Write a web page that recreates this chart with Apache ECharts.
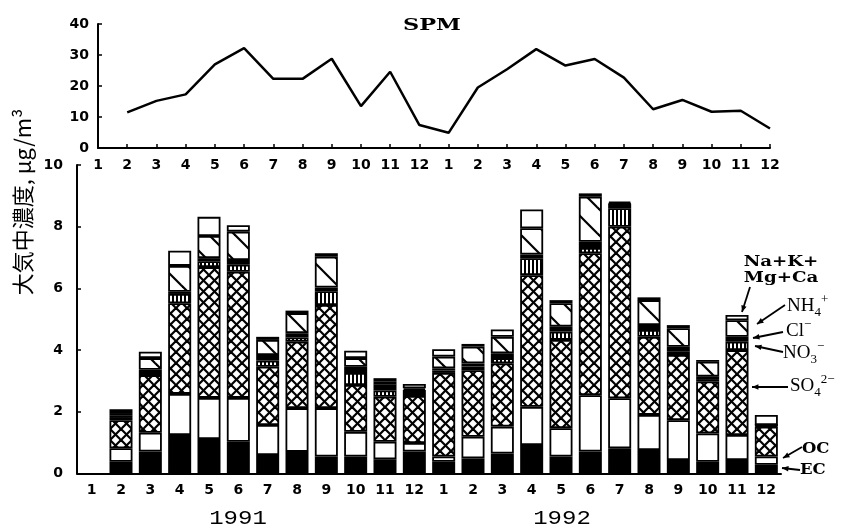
<!DOCTYPE html>
<html>
<head>
<meta charset="utf-8">
<script src="https://cdn.jsdelivr.net/npm/echarts@6/dist/echarts.min.js"></script>
<style>
  html, body { margin: 0; background: #fff; }
  #chart { width: 855px; height: 528px; }
</style>
</head>
<body>
<div id="chart"></div>
<script>
// 月 (1991年1月 〜 1992年12月)
const months = ['1','2','3','4','5','6','7','8','9','10','11','12','1','2','3','4','5','6','7','8','9','10','11','12'];

// SPM, µg/m3
const spm = ['-', 11.5, 15.2, 17.3, 27.0, 32.2, 22.3, 22.3, 28.8, 13.5, 24.6, 7.4,
             4.9, 19.5, 25.4, 31.9, 26.6, 28.7, 22.7, 12.5, 15.5, 11.7, 12.0, 6.3];

// 成分 (下から積み上げ)
const ec  = ['-', .38, .71, 1.25, 1.12, 1.03, .60, .70, .55, .55, .46, .71,
             .38, .49, .65, .92, .55, .71, .82, .76, .44, .38, .44, .28];
const oc  = ['-', .44, .61, 1.33, 1.33, 1.42, .97, 1.42, 1.57, .80, .57, .28,
             .17, .70, .87, 1.24, .92, 1.83, 1.62, 1.14, 1.29, .92, .81, .27];
const so4 = ['-', .91, 1.87, 2.94, 4.24, 4.09, 1.89, 2.15, 3.34, 1.52, 1.46, 1.52,
             2.71, 2.16, 2.05, 4.27, 2.86, 4.60, 5.56, 2.53, 2.11, 1.68, 2.75, .97];
const no3 = ['-', .10, .10, .30, .19, .23, .20, .14, .45, .39, .20, .10,
             .08, .12, .17, .55, .27, .17, .60, .22, .12, .08, .27, .03];
const cl  = ['-', .06, .07, .07, .10, .15, .18, .14, .12, .20, .20, .10,
             .07, .10, .16, .12, .16, .20, .14, .16, .15, .08, .16, .02];
const nh4 = ['-', .07, .38, .84, .72, .92, .49, .65, 1.00, .28, .10, .05,
             .38, .54, .53, .85, .76, 1.46, .02, .81, .60, .48, .54, 0];
const na  = ['-', .12, .21, .49, .62, .21, .10, .08, .11, .24, .10, .14,
             .24, .09, .24, .61, .10, .11, .05, .09, .10, .06, .17, .33];

// ハッチング用パターン
function makePattern(w, h, draw) {
  const c = document.createElement('canvas');
  c.width = w; c.height = h;
  const ctx = c.getContext('2d');
  ctx.fillStyle = '#fff';
  ctx.fillRect(0, 0, w, h);
  ctx.strokeStyle = '#000';
  draw(ctx, w, h);
  return { image: c, repeat: 'repeat' };
}
const crossHatch = makePattern(11, 11, (ctx, w, h) => {
  ctx.lineWidth = 2.2;
  for (let k = -1; k <= 1; k++) {
    ctx.beginPath(); ctx.moveTo(-2, -2 + k * w); ctx.lineTo(w + 2, h + 2 + k * w); ctx.stroke();
    ctx.beginPath(); ctx.moveTo(-2, h + 2 + k * w); ctx.lineTo(w + 2, -2 + k * w); ctx.stroke();
  }
});
const diagHatch = makePattern(26, 26, (ctx, w, h) => {
  ctx.lineWidth = 2.2;
  for (let k = -1; k <= 1; k++) {
    ctx.beginPath(); ctx.moveTo(-2, -2 + k * w); ctx.lineTo(w + 2, h + 2 + k * w); ctx.stroke();
  }
});
const vertHatch = makePattern(4, 4, (ctx, w, h) => {
  ctx.fillStyle = '#000';
  ctx.fillRect(0, 0, 2, h);
});

const labelFont = { fontFamily: 'DejaVu Sans', fontWeight: 'bold', fontSize: 14, color: '#000' };

function barSeries(name, data, fill) {
  return {
    name, type: 'bar', stack: 'total', xAxisIndex: 1, yAxisIndex: 1,
    data, barWidth: 23, animation: false,
    itemStyle: { color: fill, borderColor: '#000', borderWidth: 1.8 }
  };
}

function arrow(x1, y1, x2, y2) {
  const a = Math.atan2(y2 - y1, x2 - x1), L = 7, w = 0.4;
  return {
    type: 'group', silent: true,
    children: [
      { type: 'line', shape: { x1, y1, x2, y2 }, style: { stroke: '#000', lineWidth: 1.8 } },
      { type: 'polygon', shape: { points: [[x2, y2],
          [x2 - L * Math.cos(a - w), y2 - L * Math.sin(a - w)],
          [x2 - L * Math.cos(a + w), y2 - L * Math.sin(a + w)]] },
        style: { fill: '#000' } }
    ]
  };
}

function label(x, y, text, extra) {
  return Object.assign({
    type: 'text', x, y, silent: true,
    style: Object.assign({ text, fill: '#000', fontFamily: 'Liberation Serif', fontSize: 18,
      textAlign: 'left', textVerticalAlign: 'middle' }, extra && extra.style)
  }, extra && extra.el);
}

const subSup = {
  b: { fontFamily: 'Liberation Serif', fontSize: 19, lineHeight: 26 },
  s: { fontFamily: 'Liberation Serif', fontSize: 13, verticalAlign: 'bottom' },
  p: { fontFamily: 'Liberation Serif', fontSize: 13, verticalAlign: 'top' }
};

const chart = echarts.init(document.getElementById('chart'));
chart.setOption({
  animation: false,
  backgroundColor: '#fff',
  grid: [
    { left: 98, right: 85, top: 24, height: 124 },
    { left: 77, right: 74, top: 165, height: 308.5 }
  ],
  xAxis: [
    {
      gridIndex: 0, type: 'category', data: months, boundaryGap: false,
      axisLine: { lineStyle: { color: '#000', width: 2 } },
      axisTick: { inside: true, length: 4, lineStyle: { color: '#000', width: 1.5 } },
      axisLabel: Object.assign({ margin: 10, interval: 0 }, labelFont)
    },
    {
      gridIndex: 1, type: 'category', data: months,
      axisLine: { lineStyle: { color: '#000', width: 2 } },
      axisTick: { inside: true, length: 3, alignWithLabel: true, lineStyle: { color: '#000' } },
      axisLabel: Object.assign({ margin: 10, interval: 0 }, labelFont)
    }
  ],
  yAxis: [
    {
      gridIndex: 0, type: 'value', min: 0, max: 40, interval: 10,
      axisLine: { show: true, lineStyle: { color: '#000', width: 2 } },
      axisTick: { show: true, inside: true, length: 4, lineStyle: { color: '#000', width: 1.5 } },
      splitLine: { show: false },
      axisLabel: Object.assign({ margin: 9 }, labelFont)
    },
    {
      gridIndex: 1, type: 'value', min: 0, max: 10, interval: 2,
      axisLine: { show: true, lineStyle: { color: '#000', width: 2 } },
      axisTick: { show: true, inside: true, length: 4, lineStyle: { color: '#000', width: 1.5 } },
      splitLine: { show: false },
      axisLabel: Object.assign({ margin: 14 }, labelFont)
    }
  ],
  series: [
    {
      name: 'SPM', type: 'line', xAxisIndex: 0, yAxisIndex: 0, data: spm,
      symbol: 'none', lineStyle: { color: '#000', width: 2.5 }
    },
    barSeries('EC', ec, '#000'),
    barSeries('OC', oc, '#fff'),
    barSeries('SO4', so4, crossHatch),
    barSeries('NO3', no3, vertHatch),
    barSeries('Cl', cl, '#000'),
    barSeries('NH4', nh4, diagHatch),
    barSeries('Na+K+Mg+Ca', na, '#fff')
  ],
  graphic: [
    // タイトル
    label(432, 26, 'SPM', { style: { fontFamily: 'DejaVu Serif', fontWeight: 'bold', fontSize: 16, textAlign: 'center' },
      el: { scaleX: 1.4 } }),
    // 縦軸タイトル
    { type: 'text', x: 23, y: 202, rotation: Math.PI / 2, silent: true,
      style: { text: '大気中濃度, μg/m³', fill: '#000', fontFamily: 'Noto Sans CJK JP', fontSize: 22,
        textAlign: 'center', textVerticalAlign: 'middle' } },
    // 年
    label(238, 519, '1991', { style: { fontFamily: 'Liberation Mono', fontSize: 20, textAlign: 'center' }, el: { scaleX: 1.2 } }),
    label(562, 519, '1992', { style: { fontFamily: 'Liberation Mono', fontSize: 20, textAlign: 'center' }, el: { scaleX: 1.2 } }),
    // 成分名
    label(781, 270, 'Na+K+\nMg+Ca', { style: { fontFamily: 'DejaVu Serif', fontWeight: 'bold', fontSize: 14,
      textAlign: 'center', lineHeight: 16 }, el: { scaleX: 1.3 } }),
    label(787, 306, '{b|NH}{s|4}{p|+}', { style: { rich: subSup } }),
    label(786, 331, '{b|Cl}{p|−}', { style: { rich: subSup } }),
    label(783, 353, '{b|NO}{s|3}{p|−}', { style: { rich: subSup } }),
    label(790, 386, '{b|SO}{s|4}{p|2−}', { style: { rich: subSup } }),
    label(802, 449, 'OC', { style: { fontFamily: 'DejaVu Serif', fontWeight: 'bold', fontSize: 15 }, el: { scaleX: 1.1 } }),
    label(800, 470, 'EC', { style: { fontFamily: 'DejaVu Serif', fontWeight: 'bold', fontSize: 15 }, el: { scaleX: 1.1 } }),
    arrow(750, 287, 742, 312),
    arrow(785, 305, 757, 324),
    arrow(783, 332, 753, 338),
    arrow(783, 352, 755, 346),
    arrow(788, 387, 752, 387),
    arrow(802, 447, 783, 458),
    arrow(800, 470, 782, 468)
  ]
});
</script>
</body>
</html>
